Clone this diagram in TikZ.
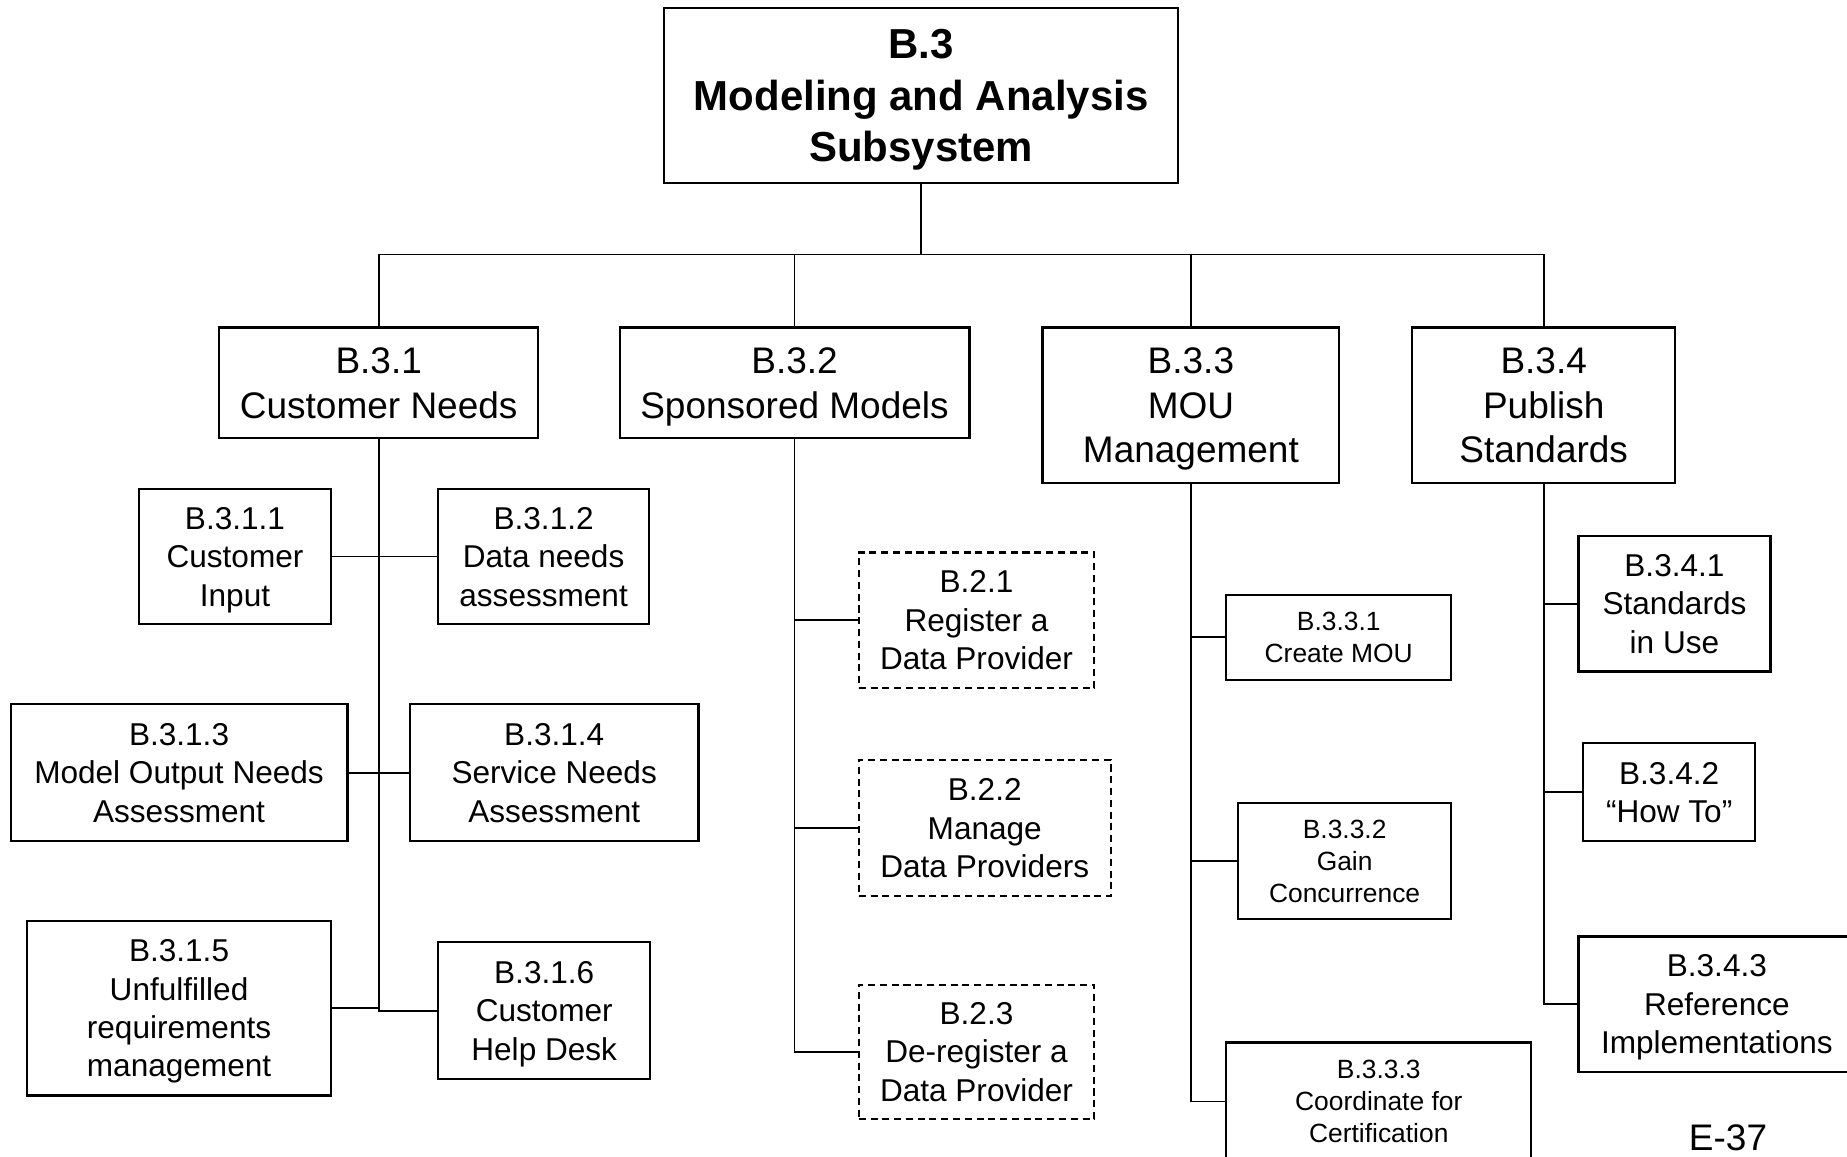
\documentclass[tikz,border=0pt]{standalone}
\usepackage{fontspec}
\setmainfont{Liberation Sans}
\usetikzlibrary{positioning,calc}

\begin{document}
\begin{tikzpicture}[
    x=0.5pt, y=-0.5pt,
    box/.style={rectangle, draw, line width=0.9pt, inner sep=0pt, align=center, text depth=0pt},
    topbox/.style={box, font=\fontsize{17.8}{22}\selectfont\bfseries},
    mainbox/.style={box, font=\fontsize{15.7}{19}\selectfont},
    subbox/.style={box, font=\fontsize{13.4}{16.3}\selectfont},
    smallbox/.style={box, font=\fontsize{11.2}{13.5}\selectfont},
    extbox/.style={subbox, dash pattern=on 3pt off 2pt},
    link/.style={line width=0.75pt},
]
\useasboundingbox (0,0) rectangle (1568,982);

% Top
\node[topbox, minimum width=218pt, minimum height=74pt] (top) at (782,81) {B.3\\Modeling and Analysis\\Subsystem};

% Second level
\node[mainbox, minimum width=135.5pt, minimum height=47pt] (b31) at (321.5,325) {B.3.1\\Customer Needs};
\node[mainbox, minimum width=148.5pt, minimum height=47pt] (b32) at (674.5,325) {B.3.2\\Sponsored Models};
\node[mainbox, minimum width=126pt, minimum height=66pt] (b33) at (1011,344) {B.3.3\\MOU\\Management};
\node[mainbox, minimum width=111.5pt, minimum height=66pt] (b34) at (1310.5,344) {B.3.4\\Publish\\Standards};

% Customer Needs
\node[subbox, minimum width=81.5pt, minimum height=57.5pt] (b311) at (199.5,472.5) {B.3.1.1\\Customer\\Input};
\node[subbox, minimum width=89.5pt, minimum height=57.5pt] (b312) at (461.5,472.5) {B.3.1.2\\Data needs\\assessment};
\node[subbox, minimum width=143pt, minimum height=58pt] (b313) at (152,656) {B.3.1.3\\Model Output Needs\\Assessment};
\node[subbox, minimum width=122.5pt, minimum height=58pt] (b314) at (470.5,656) {B.3.1.4\\Service Needs\\Assessment};
\node[subbox, minimum width=129pt, minimum height=74pt] (b315) at (152,856) {B.3.1.5\\Unfulfilled\\requirements\\management};
\node[subbox, minimum width=90pt, minimum height=58pt] (b316) at (462,858) {B.3.1.6\\Customer\\Help Desk};

% Sponsored Models
\node[extbox, minimum width=100pt, minimum height=57.5pt] (b21) at (829,526.5) {B.2.1\\Register a\\Data Provider};
\node[extbox, minimum width=107pt, minimum height=58pt] (b22) at (836,703) {B.2.2\\Manage\\Data Providers};
\node[extbox, minimum width=100pt, minimum height=57pt] (b23) at (829,893) {B.2.3\\De-register a\\Data Provider};

% MOU Management
\node[smallbox, minimum width=95.5pt, minimum height=36pt] (b331) at (1136.5,541) {B.3.3.1\\Create MOU};
\node[smallbox, minimum width=90.5pt, minimum height=49pt] (b332) at (1141.5,731) {B.3.3.2\\Gain\\Concurrence};
\node[smallbox, minimum width=129.5pt, minimum height=50pt] (b333) at (1170.5,935) {B.3.3.3\\Coordinate for\\Certification};

% Publish Standards
\node[subbox, minimum width=81.5pt, minimum height=57.5pt] (b341) at (1421.5,512.5) {B.3.4.1\\Standards\\in Use};
\node[subbox, minimum width=73pt, minimum height=41.5pt] (b342) at (1417,672.5) {B.3.4.2\\“How To”};
\node[subbox, minimum width=117.5pt, minimum height=57.5pt] (b343) at (1457.5,852.5) {B.3.4.3\\Reference\\Implementations};

% Page number
\node[font=\fontsize{15.7}{19}\selectfont, inner sep=0pt] (page) at (1467,966) {E-37};

% Relations
\coordinate (bar) at (782,216);
\draw[link] (top.south) -- (top.south |- bar);
\draw[link] (b31.north) -- (b31.north |- bar) -- (b34.north |- bar) -- (b34.north);
\draw[link] (b32.north) -- (b32.north |- bar);
\draw[link] (b33.north) -- (b33.north |- bar);

\draw[link] (b31.south) |- (b316.west);
\draw[link] (b311.east) -- (b311.east -| b31.south);
\draw[link] (b312.west) -- (b312.west -| b31.south);
\draw[link] (b313.east) -- (b313.east -| b31.south);
\draw[link] (b314.west) -- (b314.west -| b31.south);
\draw[link] (b315.east) -- (b315.east -| b31.south);

\draw[link] (b32.south) |- (b23.west);
\draw[link] (b21.west) -- (b21.west -| b32.south);
\draw[link] (b22.west) -- (b22.west -| b32.south);

\draw[link] (b33.south) |- (b333.west);
\draw[link] (b331.west) -- (b331.west -| b33.south);
\draw[link] (b332.west) -- (b332.west -| b33.south);

\draw[link] (b34.south) |- (b343.west);
\draw[link] (b341.west) -- (b341.west -| b34.south);
\draw[link] (b342.west) -- (b342.west -| b34.south);

\end{tikzpicture}
\end{document}
